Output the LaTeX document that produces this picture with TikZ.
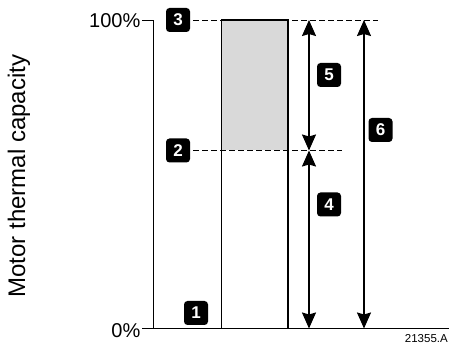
\documentclass[tikz,border=0pt]{standalone}
\usepackage{fontspec}
\setmainfont{Liberation Sans}
\usetikzlibrary{arrows.meta}
\tikzset{
  badge/.style={fill=black, text=white, rounded corners=3.5pt, minimum width=24pt, minimum height=24pt, inner sep=0pt, font=\bfseries\fontsize{17}{17}\selectfont},
  level/.style={line width=0.8pt, dash pattern=on 5.5pt off 3.5pt},
  dim/.style={line width=1.8pt, {Stealth[length=16pt,width=14pt,inset=2pt]}-{Stealth[length=16pt,width=14pt,inset=2pt]}},
  pct/.style={anchor=east, inner sep=0pt, font=\fontsize{20}{20}\selectfont}
}
\begin{document}
\begin{tikzpicture}[x=1pt,y=-1pt]
                \useasboundingbox (0,0) rectangle (450,347);
                
                % Marking corner points of the axes
                \coordinate (T) at (153.000000,20.000000);%
                \coordinate (O) at (153.000000,328.500000);%
                \coordinate (E) at (449.000000,328.500000);%
                
                % Drawing the block (filled part first)
                \fill [gray!30] (221.500000,20.000000) rectangle (288.000000,150.500000);%
                \draw [line width=1.8pt] (221.500000,20.000000) rectangle (288.000000,328.500000);%
                
                % Drawing axis O T and base line O E
                \draw [line width=0.9pt] (142.000000,20.000000) -- (T) -- (O);%
                \draw [line width=0.9pt] (142.000000,328.500000) -- (E);%
                
                % Marking point 100% and 0%
                \node [pct] (full) at (140.500000,20.500000) {100\%};%
                \node [pct] (zero) at (140.500000,331.000000) {0\%};%
                
                % Marking the axis label
                \node [rotate=90, font=\fontsize{24}{24}\selectfont] (ylabel) at (19.000000,176.000000) {Motor thermal capacity};%
                
                % Marking badges 1, 2, 3
                \node [badge] (b1) at (196.000000,313.000000) {1};%
                \node [badge] (b2) at (178.000000,150.500000) {2};%
                \node [badge] (b3) at (178.000000,20.000000) {3};%
                
                % Drawing dashed levels from badges 3 and 2
                \coordinate (L3) at (378.000000,20.000000);%
                \coordinate (L2) at (342.000000,150.500000);%
                \draw [level] (b3.east) ++(3pt,0) -- (L3);%
                \draw [level] (b2.east) ++(3pt,0) -- (L2);%
                
                % Drawing dimension arrows 5, 4, 6
                \coordinate (A5) at (309.000000,20.000000);%
                \coordinate (A4) at (309.000000,150.500000);%
                \coordinate (A0) at (309.000000,328.500000);%
                \coordinate (B6) at (364.000000,20.000000);%
                \coordinate (B0) at (364.000000,328.500000);%
                \draw [dim] (A5) -- (A4);%
                \draw [dim] (A4) -- (A0);%
                \draw [dim] (B6) -- (B0);%
                
                % Marking badges 4, 5, 6
                \node [badge] (b5) at (329.000000,75.000000) {5};%
                \node [badge] (b4) at (329.000000,204.500000) {4};%
                \node [badge] (b6) at (380.500000,130.000000) {6};%
                
                % Marking the figure number
                \node [anchor=east, inner sep=0pt, font=\fontsize{11.5}{11.5}\selectfont] (fig) at (448.000000,339.000000) {21355.A};%
\end{tikzpicture}
\end{document}
